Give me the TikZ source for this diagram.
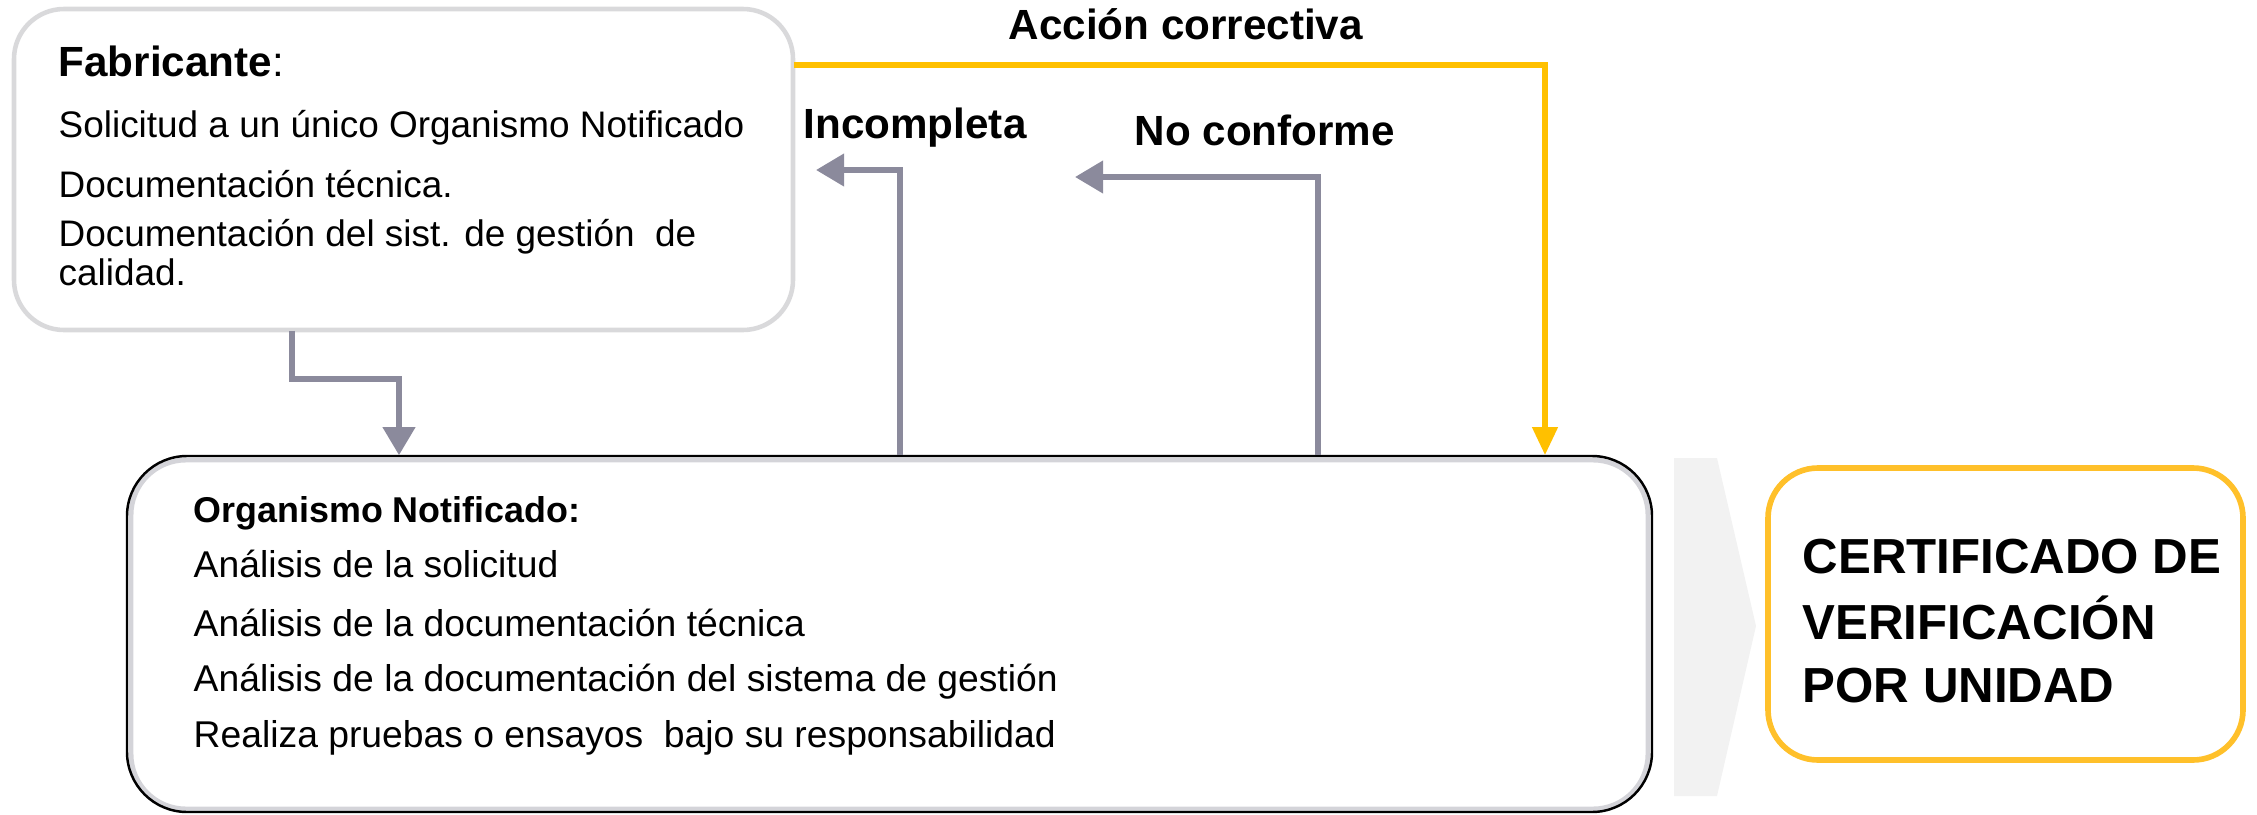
\documentclass[tikz,border=0pt]{standalone}
\usepackage{fontspec}
\setmainfont{Liberation Sans}
\usetikzlibrary{arrows.meta}
\definecolor{arrgray}{RGB}{139,138,156}
\definecolor{gold}{RGB}{255,192,0}
\definecolor{certgold}{RGB}{255,192,42}
\definecolor{boxgray}{RGB}{217,217,219}
\definecolor{chev}{RGB}{242,242,242}
\definecolor{shadecol}{RGB}{212,212,217}
\tikzset{
  fabbox/.style={draw=boxgray, line width=1.3pt, rounded corners=0.5cm},
  orgbox/.style={draw=black, line width=0.7pt, rounded corners=0.6cm},
  certbox/.style={draw=certgold, line width=1.6pt, rounded corners=0.5cm},
  grayarrow/.style={draw=arrgray, line width=1.6pt, -{Triangle[length=8pt,width=9pt]}},
  goldarrow/.style={draw=gold, line width=1.6pt, -{Triangle[length=8pt,width=7pt]}},
  txt/.style={anchor=base west, inner sep=0pt, font=\fontsize{10.5}{12.5}\selectfont},
  otxt/.style={anchor=base west, inner sep=0pt, font=\fontsize{10.6}{12.5}\selectfont},
  lbl/.style={anchor=base west, inner sep=0pt, font=\fontsize{12}{14}\selectfont\bfseries},
  cert/.style={anchor=base west, inner sep=0pt, font=\fontsize{14}{16}\selectfont\bfseries},
}
\begin{document}
\begin{tikzpicture}[x=0.01cm, y=-0.01cm]
\useasboundingbox (0,0) rectangle (2257,815);
% chevron
\fill[chev] (1674,458) -- (1717,458) -- (1756,626) -- (1717,796) -- (1674,796) -- cycle;
% boxes
\draw[fabbox] (14,9) rectangle (793,330);
\node[minimum width=7.79cm, minimum height=3.21cm, inner sep=0pt] (fab) at (403.5,169.5) {};
\draw[shadecol, line width=1.4pt, rounded corners=0.55cm] (131,460) rectangle (1648,809);
\draw[orgbox] (127,456) rectangle (1652,812);
\node[minimum width=15.25cm, minimum height=3.56cm, inner sep=0pt] (org) at (889.5,634) {};
\draw[certbox] (1768,468) rectangle (2243,760);
\node[minimum width=4.75cm, minimum height=2.92cm, inner sep=0pt] (certb) at (2005.5,614) {};
% fabricante text
\node[txt, font=\fontsize{12}{14}\selectfont] (f0) at (58,76) {\textbf{Fabricante}:};
\node[txt] (f1) at (58,137) {Solicitud a un único Organismo Notificado};
\node[txt] (f2) at (58,197) {Documentación técnica.};
\node[txt] (f3) at (58,246) {Documentación del sist. de gestión\ \ de};
\node[txt] (f4) at (58,285) {calidad.};
% organismo text
\node[otxt, font=\fontsize{10.2}{12.5}\selectfont\bfseries] (o0) at (193,522) {Organismo Notificado:};
\node[otxt] (o1) at (193,577) {Análisis de la solicitud};
\node[otxt] (o2) at (193,636) {Análisis de la documentación técnica};
\node[otxt] (o3) at (193,691) {Análisis de la documentación del sistema de gestión};
\node[otxt] (o4) at (193,747) {Realiza pruebas o ensayos\ \ bajo su responsabilidad};
% certificado text
\node[cert] (c1) at (1802,573) {CERTIFICADO DE};
\node[cert] (c2) at (1802,639) {VERIFICACIÓN};
\node[cert] (c3) at (1802,702) {POR UNIDAD};
% labels
\node[lbl] (l1) at (1008,39) {Acción correctiva};
\node[lbl] (l2) at (803,138) {Incompleta};
\node[lbl] (l3) at (1134,145) {No conforme};
% connectors
\coordinate (incend) at (816,170);
\coordinate (ncend) at (1075,177);
\draw[grayarrow] (fab.south -| 292,0) -- (292,379) -- (399,379) -- (org.north -| 399,0);
\draw[grayarrow] (org.north -| 900,0) -- (900,170) -- (incend);
\draw[grayarrow] (org.north -| 1318,0) -- (1318,177) -- (ncend);
\draw[goldarrow] (fab.east |- 0,65) -- (1545,65) -- (org.north -| 1545,0);
\end{tikzpicture}
\end{document}
